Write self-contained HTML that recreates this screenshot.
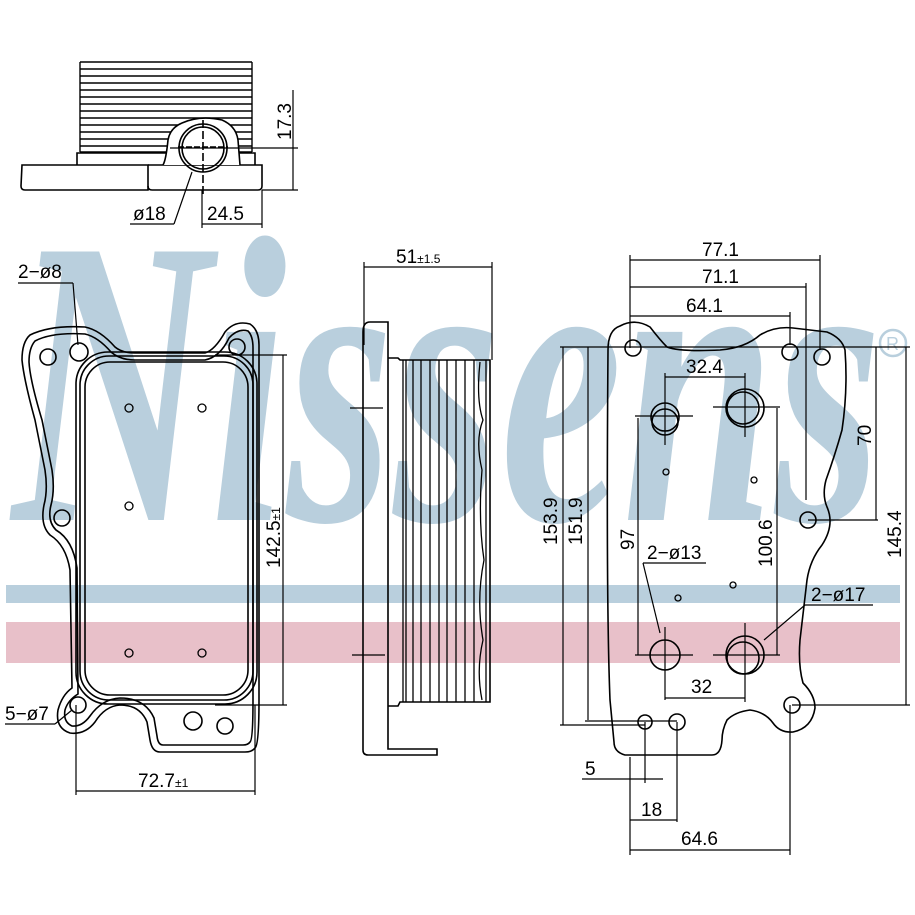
<!DOCTYPE html>
<html><head><meta charset="utf-8"><style>
html,body{margin:0;padding:0;background:#fff}
svg{display:block}
text{font-family:"Liberation Sans",sans-serif;fill:#000}
</style></head><body>
<svg width="915" height="915" viewBox="0 0 915 915" xmlns="http://www.w3.org/2000/svg">
<rect width="915" height="915" fill="#fff"/>
<text x="12" y="520" font-style="italic" font-weight="bold" font-size="410" textLength="870" lengthAdjust="spacingAndGlyphs" style="fill:#b9cfdd;font-family:'Liberation Serif',serif">Nissens</text>
<circle cx="893" cy="343" r="13" fill="none" stroke="#b9cfdd" stroke-width="2.5"/>
<text x="886" y="350" font-size="18" style="fill:#b9cfdd">R</text>
<rect x="6" y="585" width="894" height="18" fill="#b9cfdd"/>
<rect x="6" y="622" width="894" height="41" fill="#e8c0c9"/>

<g fill="none" stroke="#000" stroke-width="1.6">
<g stroke-width="1.4">
<line x1="80" y1="62" x2="80" y2="152"/><line x1="252" y1="62" x2="252" y2="152"/>
<line x1="80" y1="62" x2="252" y2="62"/><line x1="80" y1="69" x2="252" y2="69"/>
<line x1="80" y1="76" x2="252" y2="76"/><line x1="80" y1="83" x2="252" y2="83"/>
<line x1="80" y1="90" x2="252" y2="90"/><line x1="80" y1="97" x2="252" y2="97"/>
<line x1="80" y1="104" x2="252" y2="104"/><line x1="80" y1="111" x2="252" y2="111"/>
<line x1="80" y1="118" x2="252" y2="118"/><line x1="80" y1="125" x2="252" y2="125"/>
<line x1="80" y1="132" x2="252" y2="132"/><line x1="80" y1="139" x2="252" y2="139"/>
<line x1="80" y1="146" x2="252" y2="146"/><line x1="80" y1="152" x2="252" y2="152"/>
</g>
<path d="M77 165 V153 H255 V165"/>
<path d="M22 165 H148 V190 H25 Q21 190 21 186 Z"/>
<path d="M148 165 H262 V186 Q262 190 258 190 H152 Q148 190 148 186"/>
<path d="M163 165 Q166 160 168 140 Q170 128 182 123 Q200 115 222 120 Q236 126 238 140 L240 165" fill="#fff"/>
<circle cx="203" cy="148" r="24"/><circle cx="203" cy="148" r="21"/>
<line x1="178" y1="147" x2="228" y2="147" stroke-dasharray="6 2"/>
<line x1="203" y1="120" x2="203" y2="195" stroke-dasharray="8 3"/>
<line x1="170" y1="148" x2="298" y2="148" stroke-width="1.2"/>
<line x1="262" y1="190" x2="298" y2="190" stroke-width="1.2"/>
<line x1="293" y1="90" x2="293" y2="190" stroke-width="1.2"/>
<line x1="202" y1="190" x2="202" y2="228" stroke-width="1.2"/>
<line x1="262" y1="190" x2="262" y2="228" stroke-width="1.2"/>
<line x1="202" y1="224" x2="262" y2="224" stroke-width="1.2"/>
<line x1="192" y1="172" x2="174" y2="224" stroke-width="1.2"/>
<line x1="130" y1="224" x2="174" y2="224" stroke-width="1.2"/>

<g stroke-width="1.6">
<path d="M30 335 Q50 325 85 327 Q100 330 115 347 Q122 353 135 353 H205 Q215 350 225 332 Q235 320 250 324 Q259 330 259 345 V700 Q259 745 255 748 Q252 752 245 752 H160 Q152 752 150 740 L147 722 Q140 705 120 705 Q105 706 95 722 Q85 735 70 733 Q55 728 58 710 Q62 695 72 688 L70 570 Q66 545 50 535 Q40 525 44 505 Q48 490 45 470 L35 420 Q24 380 22 360 Q22 342 30 335 Z"/>
<path d="M35 341 Q52 332 85 334 Q98 337 111 352 Q120 360 135 360 H205 Q220 357 229 338 Q238 328 248 331 Q253 336 253 348 V700 Q253 740 250 742 Q248 745 243 745 H163 Q158 745 157 736 L154 718 Q145 698 120 698 Q102 699 90 716 Q82 727 72 726 Q63 722 65 710 Q68 700 78 694 L77 568 Q73 540 56 530 Q47 521 51 505 Q55 490 52 470 L42 420 Q30 380 29 362 Q29 348 35 341 Z"/>
</g>
<rect x="76" y="352" width="181" height="352" rx="32"/>
<rect x="80" y="356" width="173" height="344" rx="29"/>
<rect x="85" y="362" width="163" height="333" rx="25"/>
<g stroke-width="1.6">
<circle cx="48" cy="357" r="8"/><circle cx="79" cy="352" r="9"/><circle cx="237" cy="347" r="8"/>
<circle cx="62" cy="518" r="8"/><circle cx="78" cy="705" r="8"/>
<circle cx="193" cy="721" r="9"/><circle cx="225" cy="726" r="8"/>
</g>
<g stroke-width="1.3">
<circle cx="129" cy="408" r="4"/><circle cx="202" cy="408" r="4"/><circle cx="129" cy="506" r="4"/>
<circle cx="129" cy="653" r="4"/><circle cx="202" cy="653" r="4"/>
</g>
<g stroke-width="1.2">
<line x1="215" y1="355" x2="287" y2="355"/><line x1="215" y1="705" x2="287" y2="705"/>
<line x1="283" y1="355" x2="283" y2="705"/>
<line x1="76" y1="705" x2="76" y2="795"/><line x1="255" y1="705" x2="255" y2="795"/>
<line x1="76" y1="791" x2="255" y2="791"/>
<line x1="18" y1="283" x2="73" y2="283"/><line x1="73" y1="283" x2="78" y2="345"/>
<line x1="5" y1="724" x2="55" y2="724"/><line x1="55" y1="724" x2="72" y2="710"/>
</g>

<g stroke-width="1.2">
<line x1="364" y1="267" x2="492" y2="267"/>
<line x1="364" y1="262" x2="364" y2="345"/><line x1="492" y1="262" x2="492" y2="360"/>
<line x1="350" y1="408" x2="383" y2="408"/><line x1="352" y1="655" x2="385" y2="655"/>
</g>
<path d="M388 322 H370 Q363 322 363 332 V750 Q363 755 368 755 H437 V749 H388 Z"/>
<path d="M388 358 H398 L400 360 H490 V702 H400 L398 706 H388"/>
<g stroke-width="1.3">
<line x1="403" y1="360" x2="403" y2="702"/><line x1="406" y1="360" x2="406" y2="702"/>
<line x1="413" y1="360" x2="413" y2="702"/><line x1="421" y1="360" x2="421" y2="702"/>
<line x1="430" y1="360" x2="430" y2="702"/><line x1="439" y1="360" x2="439" y2="702"/>
<line x1="447" y1="360" x2="447" y2="702"/><line x1="456" y1="360" x2="456" y2="702"/>
<line x1="465" y1="360" x2="465" y2="702"/><line x1="474" y1="360" x2="474" y2="702"/>
<line x1="486" y1="360" x2="486" y2="702"/>
<path d="M480 362 Q476 400 483 420 Q475 440 482 470 Q478 520 484 560 Q476 600 483 640 Q476 670 482 700"/>
</g>

<path d="M608 350 Q608 330 620 326 Q635 318 650 327 Q660 340 667 347 Q680 352 720 350 Q745 348 760 335 Q775 326 793 328 L827 332 Q842 338 845 350 Q848 390 842 430 Q835 455 826 480 Q822 495 827 507 Q835 525 822 545 Q810 560 807 580 L800 640 Q798 665 803 683 Q815 695 815 708 Q812 728 793 732 Q780 733 773 723 Q765 712 750 710 Q735 712 727 720 Q722 730 722 740 Q721 755 712 755 H625 Q614 752 614 742 L610 700 Q606 600 608 350 Z"/>
<g stroke-width="1.6">
<circle cx="633" cy="348" r="8"/><circle cx="790" cy="352" r="8"/><circle cx="822" cy="357" r="8"/>
<circle cx="808" cy="520" r="8"/><circle cx="645" cy="722" r="7"/><circle cx="677" cy="722" r="8"/>
<circle cx="792" cy="705" r="8"/>
<circle cx="665" cy="417" r="14"/><circle cx="665" cy="422" r="13"/>
<circle cx="745" cy="408" r="19"/><circle cx="743" cy="408" r="16"/>
<circle cx="665" cy="655" r="15"/>
<circle cx="745" cy="655" r="19"/><circle cx="743" cy="658" r="16"/>
</g>
<g stroke-width="1.3">
<circle cx="666" cy="472" r="3"/><circle cx="754" cy="480" r="3"/>
<circle cx="733" cy="585" r="3"/><circle cx="678" cy="598" r="3"/>
</g>
<g stroke-width="1.2">
<line x1="560" y1="347" x2="910" y2="347"/>
<line x1="630" y1="255" x2="630" y2="348"/><line x1="820" y1="255" x2="820" y2="350"/>
<line x1="806" y1="283" x2="806" y2="500"/><line x1="790" y1="312" x2="790" y2="345"/>
<line x1="630" y1="260" x2="820" y2="260"/><line x1="630" y1="287" x2="806" y2="287"/>
<line x1="630" y1="316" x2="790" y2="316"/>
<line x1="665" y1="377" x2="745" y2="377"/>
<line x1="665" y1="373" x2="665" y2="445"/><line x1="745" y1="373" x2="745" y2="437"/>
<line x1="635" y1="416" x2="693" y2="416"/><line x1="713" y1="407" x2="780" y2="407"/>
<line x1="635" y1="655" x2="693" y2="655"/><line x1="713" y1="655" x2="780" y2="655"/>
<line x1="665" y1="627" x2="665" y2="700"/><line x1="745" y1="623" x2="745" y2="702"/>
<line x1="563" y1="347" x2="563" y2="725"/><line x1="588" y1="347" x2="588" y2="720"/>
<line x1="560" y1="725" x2="645" y2="725"/><line x1="585" y1="721" x2="677" y2="721"/>
<line x1="638" y1="418" x2="638" y2="655"/><line x1="777" y1="408" x2="777" y2="655"/>
<line x1="876" y1="347" x2="876" y2="520"/><line x1="808" y1="520" x2="878" y2="520"/>
<line x1="906" y1="347" x2="906" y2="705"/><line x1="792" y1="705" x2="910" y2="705"/>
<line x1="643" y1="563" x2="706" y2="563"/><line x1="643" y1="563" x2="660" y2="633"/>
<line x1="805" y1="605" x2="873" y2="605"/><line x1="805" y1="605" x2="764" y2="640"/>
<line x1="665" y1="698" x2="745" y2="698"/>
<line x1="630" y1="757" x2="630" y2="855"/><line x1="645" y1="722" x2="645" y2="783"/>
<line x1="677" y1="722" x2="677" y2="822"/><line x1="790" y1="705" x2="790" y2="855"/>
<line x1="582" y1="779" x2="663" y2="779"/>
<line x1="630" y1="820" x2="677" y2="820"/><line x1="630" y1="850" x2="790" y2="850"/>
</g>
</g>

<g font-size="19">
<text x="133" y="220">ø18</text>
<text x="207" y="220">24.5</text>
<text x="291" y="140" transform="rotate(-90 291 140)">17.3</text>
<text x="18" y="278">2−ø8</text>
<text x="5" y="720">5−ø7</text>
<text x="280" y="568" transform="rotate(-90 280 568)">142.5<tspan font-size="12">±1</tspan></text>
<text x="138" y="787">72.7<tspan font-size="12">±1</tspan></text>
<text x="396" y="263">51<tspan font-size="12">±1.5</tspan></text>
<text x="702" y="256">77.1</text>
<text x="702" y="283">71.1</text>
<text x="686" y="312">64.1</text>
<text x="686" y="373">32.4</text>
<text x="557" y="545" transform="rotate(-90 557 545)">153.9</text>
<text x="582" y="545" transform="rotate(-90 582 545)">151.9</text>
<text x="634" y="550" transform="rotate(-90 634 550)">97</text>
<text x="772" y="567" transform="rotate(-90 772 567)">100.6</text>
<text x="871" y="446" transform="rotate(-90 871 446)">70</text>
<text x="901" y="558" transform="rotate(-90 901 558)">145.4</text>
<text x="647" y="559">2−ø13</text>
<text x="811" y="601">2−ø17</text>
<text x="691" y="693">32</text>
<text x="585" y="775">5</text>
<text x="641" y="816">18</text>
<text x="681" y="845">64.6</text>
</g>
</svg>
</body></html>
